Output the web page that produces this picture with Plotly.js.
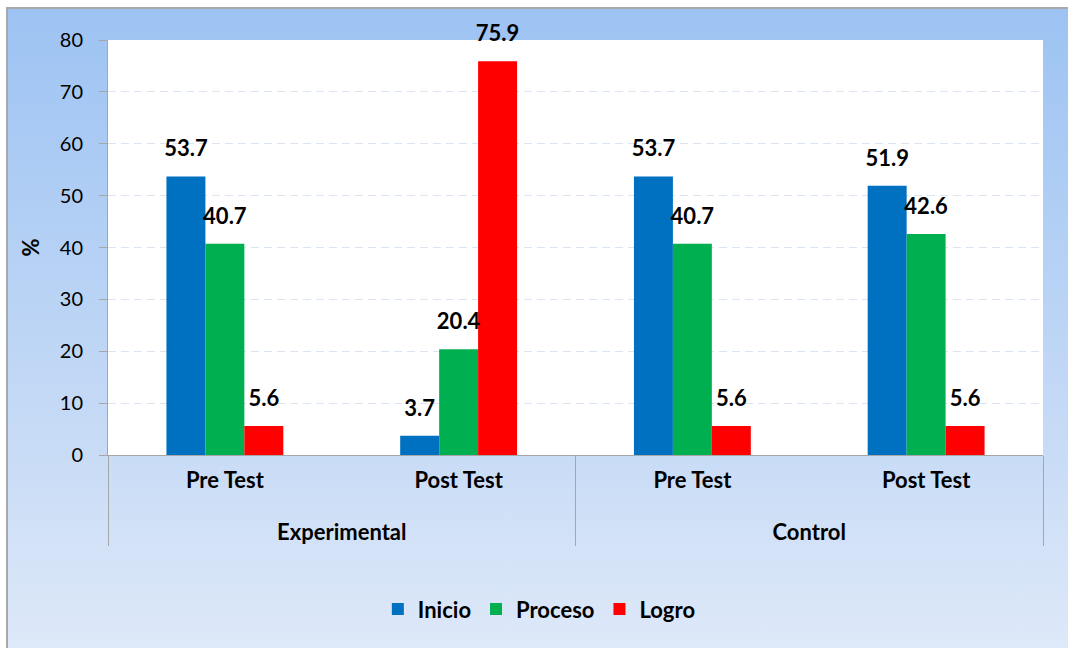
<!DOCTYPE html>
<html><head><meta charset="utf-8">
<script src="https://cdn.plot.ly/plotly-3.0.1.min.js"></script>
<style>
html,body{margin:0;padding:0;width:1068px;height:648px;overflow:hidden;background:#fff;}
#bg{position:absolute;left:6px;top:7px;width:1062px;height:641px;border-left:2px solid #a9a9a9;border-top:2px solid #a9a9a9;box-sizing:border-box;background:linear-gradient(to bottom,#9DC3F3 0%,#C9DCF6 70%,#DEE9F9 100%);}
#chart{position:absolute;left:0;top:0;width:1068px;height:648px;}
</style></head><body><div id="bg"></div><div id="chart"></div>
<script>
var groups = ['<br>Experimental','<br>Experimental','<br>Control','<br>Control'];
var tests = ['Pre Test','Post Test','Pre Test','Post Test'];
var seriesNames = ['Inicio','Proceso','Logro'];
var inicio = [53.7, 3.7, 53.7, 51.9];
var proceso = [40.7, 20.4, 40.7, 42.6];
var logro = [5.6, 75.9, 5.6, 5.6];
var colors = ['#0070C0','#00B050','#FF0000'];
var yTicks = [0,10,20,30,40,50,60,70,80];

var FONT = 'Lato, "Open Sans", sans-serif';
var values = [inicio, proceso, logro];
var traces = [];
values.forEach(function(v,i){
  traces.push({type:'bar', x:[groups,tests], y:v, name:seriesNames[i], offsetgroup:'g'+i,
    marker:{color:colors[i]}, hoverinfo:'skip'});
});
values.forEach(function(v,i){
  traces.push({type:'scatter', mode:'markers+text', x:[groups,tests], y:v, offsetgroup:'g'+i,
    text:v.map(function(d){return d.toFixed(1);}), textposition:'top center',
    textfont:{family:FONT, size:22, weight:'bold', color:'#000'},
    marker:{size:22, opacity:0}, showlegend:false, hoverinfo:'skip', cliponaxis:false});
});

var layout = {
  width:1068, height:648,
  paper_bgcolor:'rgba(0,0,0,0)', plot_bgcolor:'#ffffff',
  margin:{l:108, r:25, t:40, b:193},
  barmode:'group', bargap:0.5, bargroupgap:0,
  scattermode:'group', scattergap:0.5,
  font:{family:FONT, size:20, color:'#000'},
  showlegend:true,
  legend:{orientation:'h', xref:'container', yref:'container', x:0.505, xanchor:'center', y:0.06, yanchor:'middle',
    font:{family:FONT, size:22, weight:'bold', color:'#000'}, bgcolor:'rgba(0,0,0,0)'},
  xaxis:{type:'multicategory', showline:true, linecolor:'#a6a6a6', linewidth:1,
    showdividers:true, dividercolor:'#a6a6a6', dividerwidth:1,
    ticks:'outside', ticklen:10, tickcolor:'rgba(0,0,0,0)', ticklabelstandoff:6,
    tickfont:{family:FONT, size:22, weight:'bold', color:'#000'}, showgrid:false, zeroline:false},
  yaxis:{range:[0,80], tickvals:yTicks, showline:true, linecolor:'#a6a6a6', linewidth:1,
    ticks:'outside', ticklen:8, tickcolor:'#a6a6a6', ticklabelstandoff:12,
    tickfont:{family:FONT, size:20, color:'#000'},
    showgrid:true, gridcolor:'#dbe5f1', griddash:'8px,5px', gridwidth:1, zeroline:false,
    title:{text:'%', font:{family:FONT, size:22, weight:'bold', color:'#000'}, standoff:14}}
};
Plotly.newPlot('chart', traces, layout, {displayModeBar:false, staticPlot:true});
</script></body></html>
